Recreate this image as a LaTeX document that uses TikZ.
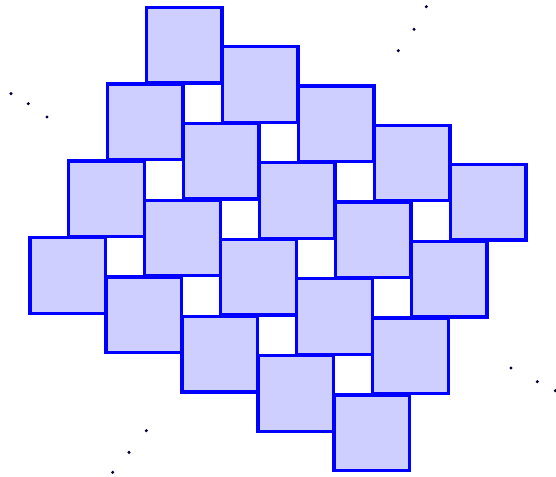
\documentclass[tikz,border=0pt]{standalone}
\definecolor{tilefill}{RGB}{207,207,255}
\definecolor{tileline}{RGB}{0,0,255}
\definecolor{dotc}{RGB}{0,0,60}
\tikzset{
  tilefillstyle/.style={fill=tilefill},
  tilelinestyle/.style={draw=tileline, line width=3.3pt},
  dotstyle/.style={fill=dotc}
}
\begin{document}
\begin{tikzpicture}[x=1pt,y=-1pt]
\useasboundingbox (0,0) rectangle (556,476);
% fills
\foreach \i in {0,...,3}{
  \foreach \j in {0,...,4}{
    \pgfmathsetmacro{\xx}{146.3+76.0*\j-38.8*\i}
    \pgfmathsetmacro{\yy}{7.3+39.3*\j+76.8*\i}
    \fill[tilefillstyle] (\xx,\yy) rectangle ++(75.6,75.6);
  }
}
% outlines
\foreach \i in {0,...,3}{
  \foreach \j in {0,...,4}{
    \pgfmathsetmacro{\xx}{146.3+76.0*\j-38.8*\i}
    \pgfmathsetmacro{\yy}{7.3+39.3*\j+76.8*\i}
    \draw[tilelinestyle] (\xx,\yy) rectangle ++(75.6,75.6);
  }
}
% dots
\foreach \p in {(11,93.7),(28.3,103.7),(47,117),
                (426.3,6.7),(414,29.3),(398.3,50.7),
                (146.3,430.7),(129,452.3),(112.7,472.3),
                (511,368),(537.3,381.7),(555.3,390.7)}
  \fill[dotstyle] \p circle (1.7);
\end{tikzpicture}
\end{document}
